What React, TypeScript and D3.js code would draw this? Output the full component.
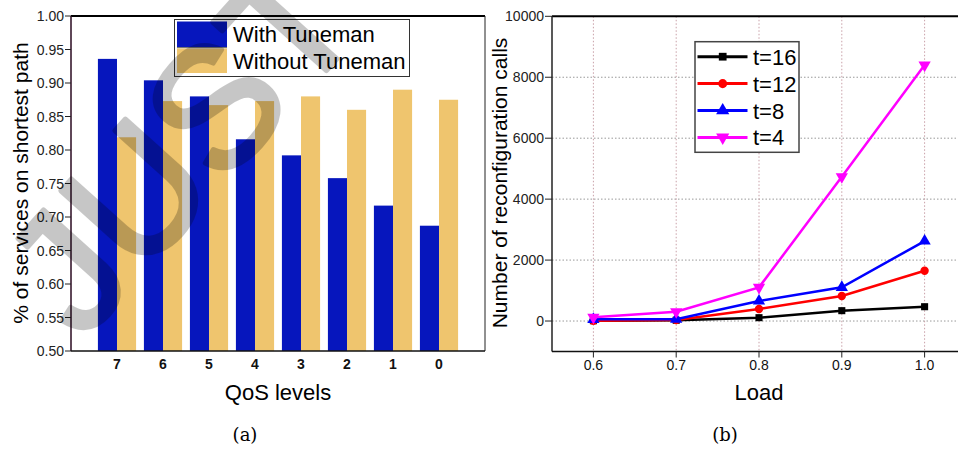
import React from 'react';
import * as d3 from 'd3';

const qosLevels = ['7', '6', '5', '4', '3', '2', '1', '0'];
const withTuneman = [0.936, 0.904, 0.88, 0.816, 0.792, 0.758, 0.717, 0.687];
const withoutTuneman = [0.819, 0.873, 0.867, 0.873, 0.88, 0.86, 0.89, 0.875];
const leftYTicks = [0.5, 0.55, 0.6, 0.65, 0.7, 0.75, 0.8, 0.85, 0.9, 0.95, 1.0];

const loads = [0.6, 0.7, 0.8, 0.9, 1.0];
const t16 = [10, 25, 110, 340, 470];
const t12 = [10, 30, 394, 820, 1650];
const t8 = [55, 60, 656, 1105, 2625];
const t4 = [120, 305, 1105, 4735, 8400];
const rightYTicks = [0, 2000, 4000, 6000, 8000, 10000];

const watermarkText = 'JUST';

const FONT = '"Liberation Sans", Arial, sans-serif';
const SERIF = '"DejaVu Serif", "Liberation Serif", serif';
const BLUE = '#0616bd';
const YELLOW = '#efc56e';

const series = [
  { name: 't=16', values: t16, color: '#000000', symbol: d3.symbolSquare, size: 50, rot: 0 },
  { name: 't=12', values: t12, color: '#ff0000', symbol: d3.symbolCircle, size: 55, rot: 0 },
  { name: 't=8', values: t8, color: '#0000ff', symbol: d3.symbolTriangle, size: 65, rot: 0 },
  { name: 't=4', values: t4, color: '#ff00ff', symbol: d3.symbolTriangle, size: 65, rot: 180 },
];

function LeftChart() {
  const x = d3.scaleLinear().domain([0, 9]).range([71, 485]);
  const y = d3.scaleLinear().domain([0.5, 1.0]).range([351, 16]);
  const step = x(1) - x(0);
  const bw = step * 0.415;
  return (
    <g>
      {qosLevels.map((q, i) => (
        <g key={q}>
          <rect x={x(i + 1) - bw} y={y(withTuneman[i])} width={bw} height={y(0.5) - y(withTuneman[i])} fill={BLUE} />
          <rect x={x(i + 1)} y={y(withoutTuneman[i])} width={bw} height={y(0.5) - y(withoutTuneman[i])} fill={YELLOW} />
          <text x={x(i + 1)} y={369} textAnchor="middle" fontFamily={FONT} fontSize={14} fontWeight="bold" fill="#111">{q}</text>
        </g>
      ))}
      <line x1={x(0)} x2={x(9)} y1={y(1)} y2={y(1)} stroke="#000" strokeWidth={2} />
      <line x1={x(9)} x2={x(9)} y1={y(1)} y2={y(0.5)} stroke="#222" strokeWidth={1} />
      <line x1={x(0)} x2={x(0)} y1={y(1)} y2={y(0.5)} stroke="#2a0a20" strokeWidth={1.5} />
      <line x1={x(0)} x2={x(9)} y1={y(0.5)} y2={y(0.5)} stroke="#111" strokeWidth={1.5} />
      {leftYTicks.map((t) => (
        <g key={t}>
          <line x1={x(0) - 6} x2={x(0)} y1={y(t)} y2={y(t)} stroke="#222" strokeWidth={1} />
          <text x={x(0) - 7} y={y(t) + 5} textAnchor="end" fontFamily={FONT} fontSize={14} fill="#222">{t.toFixed(2)}</text>
        </g>
      ))}
      <rect x={174.5} y={19.5} width={235} height={57} fill="#fff" stroke="#333" strokeWidth={1} />
      <rect x={177} y={21.5} width={50} height={25.5} fill={BLUE} />
      <line x1={177} x2={227} y1={47.7} y2={47.7} stroke="#555" strokeWidth={1} />
      <rect x={177} y={48.5} width={50} height={24.5} fill={YELLOW} />
      <text x={233} y={41.7} fontFamily={FONT} fontSize={22} fill="#000">With Tuneman</text>
      <text x={233} y={69} fontFamily={FONT} fontSize={22} fill="#000">Without Tuneman</text>
      <text transform="translate(28,183) rotate(-90)" textAnchor="middle" fontFamily={FONT} fontSize={21} fill="#000">% of services on shortest path</text>
      <text x={278} y={400} textAnchor="middle" fontFamily={FONT} fontSize={22} fill="#000">QoS levels</text>
      <text x={245} y={441} textAnchor="middle" fontFamily={SERIF} fontSize={18} fill="#000">(a)</text>
    </g>
  );
}

function RightChart() {
  const x = d3.scaleLinear().domain([0.55, 1.05]).range([552, 966]);
  const y = d3.scaleLinear().domain([-1000, 10000]).range([351.5, 16.3]);
  const line = d3.line<number>().x((_, i) => x(loads[i])).y((d) => y(d));
  return (
    <g>
      {rightYTicks.slice(0, -1).map((t) => (
        <line key={'gy' + t} x1={x(0.55)} x2={958} y1={y(t)} y2={y(t)} stroke="#999" strokeWidth={1} strokeDasharray="1.5,2" />
      ))}
      {loads.map((l) => (
        <line key={'gx' + l} x1={x(l)} x2={x(l)} y1={y(10000)} y2={y(-1000)} stroke="#c9a0a8" strokeWidth={1} strokeDasharray="1.5,2" />
      ))}
      <line x1={x(0.55)} x2={958} y1={y(10000)} y2={y(10000)} stroke="#000" strokeWidth={2} />
      <line x1={x(0.55)} x2={x(0.55)} y1={y(10000)} y2={y(-1000)} stroke="#222" strokeWidth={1.5} />
      <line x1={x(0.55)} x2={958} y1={y(-1000)} y2={y(-1000)} stroke="#111" strokeWidth={1.5} />
      {rightYTicks.map((t) => (
        <g key={t}>
          <line x1={x(0.55) - 7} x2={x(0.55)} y1={y(t)} y2={y(t)} stroke="#222" strokeWidth={1} />
          <text x={x(0.55) - 8} y={y(t) + 5} textAnchor="end" fontFamily={FONT} fontSize={14} fill="#222">{t}</text>
        </g>
      ))}
      {loads.map((l) => (
        <g key={l}>
          <line x1={x(l)} x2={x(l)} y1={y(-1000)} y2={y(-1000) + 6} stroke="#222" strokeWidth={1} />
          <text x={x(l)} y={370} textAnchor="middle" fontFamily={FONT} fontSize={14} fill="#111">{l.toFixed(1)}</text>
        </g>
      ))}
      {series.map((s) => (
        <g key={s.name}>
          <path d={line(s.values) || ''} fill="none" stroke={s.color} strokeWidth={2.5} />
          {s.values.map((v, i) => (
            <path key={i} d={d3.symbol().type(s.symbol).size(s.size)() || ''} transform={`translate(${x(loads[i])},${y(v)}) rotate(${s.rot})`} fill={s.color} />
          ))}
        </g>
      ))}
      <rect x={695} y={41.7} width={104} height={110.6} fill="#fff" stroke="#444" strokeWidth={1.5} />
      {series.map((s, i) => {
        const ry = 56.7 + i * 26.9;
        return (
          <g key={'lg' + s.name}>
            <line x1={697.5} x2={747.5} y1={ry} y2={ry} stroke={s.color} strokeWidth={3} />
            <path d={d3.symbol().type(s.symbol).size(s.size + 10)() || ''} transform={`translate(722.7,${ry}) rotate(${s.rot})`} fill={s.color} />
            <text x={753} y={ry + 8} fontFamily={FONT} fontSize={22} fill="#000">{s.name}</text>
          </g>
        );
      })}
      <text transform="translate(507,183) rotate(-90)" textAnchor="middle" fontFamily={FONT} fontSize={21} fill="#000">Number of reconfiguration calls</text>
      <text x={759} y={400} textAnchor="middle" fontFamily={FONT} fontSize={22} fill="#000">Load</text>
      <text x={725} y={441} textAnchor="middle" fontFamily={SERIF} fontSize={18} fill="#000">(b)</text>
    </g>
  );
}

export default function App() {
  return (
    <div style={{ position: 'absolute', left: 0, top: 0 }}>
      <svg width={958} height={450} viewBox="0 0 958 450" style={{ display: 'block', background: '#fff' }}>
        <rect width={958} height={450} fill="#fff" />
        <LeftChart />
        <RightChart />
        <g opacity={0.22}>
          <text transform="translate(82,342) rotate(-48)" fontFamily={FONT} fontSize={170} fill="#000" stroke="#000" strokeWidth={5} strokeLinejoin="round">{watermarkText}</text>
        </g>
      </svg>
    </div>
  );
}
